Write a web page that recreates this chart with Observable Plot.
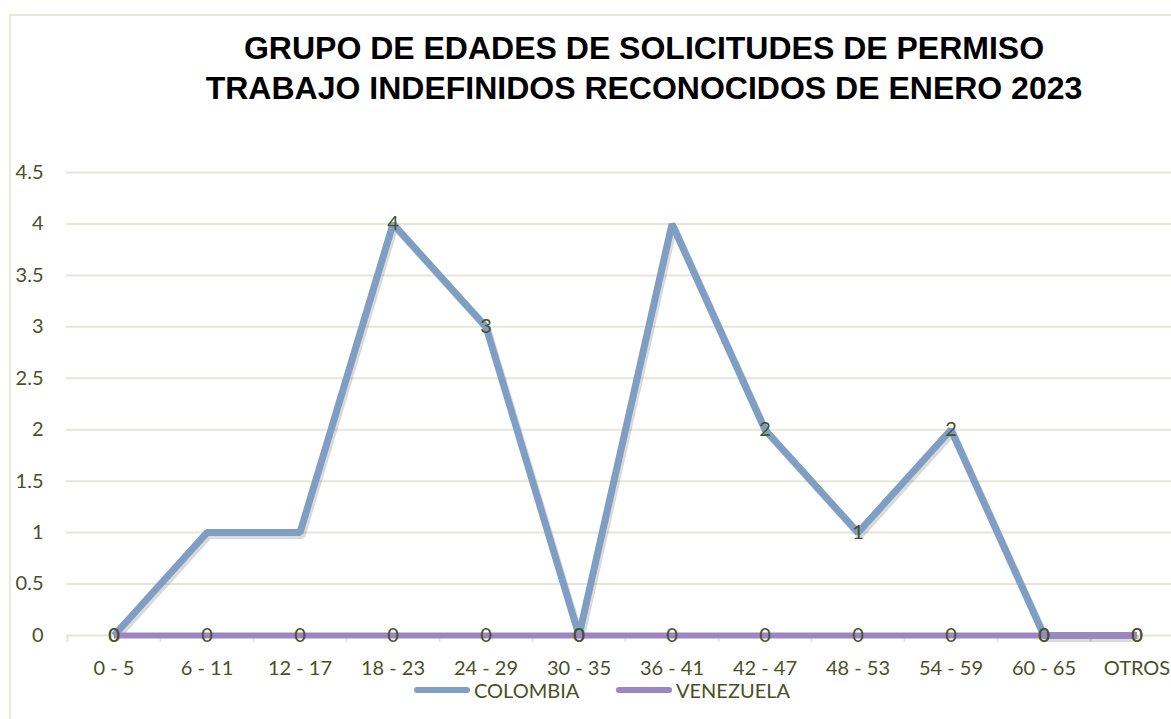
<!DOCTYPE html>
<html><head><meta charset="utf-8">
<script src="https://cdn.jsdelivr.net/npm/d3@7"></script>
<script src="https://cdn.jsdelivr.net/npm/@observablehq/plot@0.6"></script>
<style>
body{margin:0;background:#fff;}
#wrap{position:relative;width:1171px;height:719px;overflow:hidden;font-family:Lato,sans-serif;color:#4a5126;}
#border{position:absolute;left:9px;top:14px;width:1300px;height:900px;border:2px solid #e8e8da;box-sizing:border-box;}
#title{position:absolute;left:0;top:28px;width:1288px;text-align:center;font-family:"Liberation Sans",Arial,sans-serif;font-weight:bold;font-size:32px;line-height:40px;color:#000;}
#chart{position:absolute;left:0;top:0;}
.leg{position:absolute;top:677px;font-size:20px;line-height:26px;display:flex;align-items:center;}
.sw{display:inline-block;width:56px;height:6px;border-radius:3px;margin-right:4px;}
</style></head>
<body>
<div id="wrap">
  <div id="border"></div>
  <div id="title">GRUPO DE EDADES DE SOLICITUDES DE PERMISO<br>TRABAJO INDEFINIDOS RECONOCIDOS DE ENERO 2023</div>
  <div id="chart"></div>
  <div class="leg" style="left:414px"><span class="sw" style="background:#7e9ec4"></span>COLOMBIA</div>
  <div class="leg" style="left:616px"><span class="sw" style="background:#9c85c0"></span>VENEZUELA</div>
</div>
<script>
const categories = ["0 - 5","6 - 11","12 - 17","18 - 23","24 - 29","30 - 35","36 - 41","42 - 47","48 - 53","54 - 59","60 - 65","OTROS"];
const colombia = [0,1,1,4,3,0,4,2,1,2,0,0];
const venezuela = [0,0,0,0,0,0,0,0,0,0,0,0];
const colombiaLabelShown = [true,false,false,true,true,true,false,true,true,true,true,true];
const yTicks = [0,0.5,1,1.5,2,2.5,3,3.5,4,4.5];

const col = categories.map((c,i)=>({cat:c, v:colombia[i], show:colombiaLabelShown[i]}));
const ven = categories.map((c,i)=>({cat:c, v:venezuela[i]}));
const textColor = "#4a5126";
const gridColor = "#e6e6d6";

const chart = Plot.plot({
  width: 1171, height: 719,
  marginLeft: 66, marginRight: 0, marginTop: 172, marginBottom: 84,
  x: {type:"band", domain: categories, range:[66, 1183], padding:0, label:null, tickSize:0, tickPadding:25},
  y: {domain:[0,4.5], ticks: yTicks, tickFormat: d=>String(d), label:null, tickSize:0, tickPadding:23},
  style: {fontFamily:"Lato, sans-serif", fontSize:"20px", color:textColor, background:"transparent", overflow:"visible"},
  marks: [
    Plot.ruleY(yTicks, {stroke:gridColor, strokeWidth:2}),
    Plot.ruleX(categories, {x:d=>d, dx:-46.5, y1:0, y2:0, insetBottom:-7, stroke:gridColor, strokeWidth:2}),
    Plot.line(col, {x:"cat", y:"v", stroke:"#555", strokeOpacity:0.22, strokeWidth:7, dx:2, dy:3, strokeLinejoin:"miter", strokeLinecap:"butt"}),
    Plot.line(col, {x:"cat", y:"v", stroke:"#7e9ec4", strokeWidth:7, strokeLinejoin:"miter", strokeLinecap:"butt"}),
    Plot.line(ven, {x:"cat", y:"v", stroke:"#9c85c0", strokeWidth:6, strokeLinejoin:"miter", strokeLinecap:"butt"}),
    Plot.text(col.filter(d=>d.show), {x:"cat", y:"v", text:d=>String(d.v), fill:textColor, fontSize:20}),
    Plot.text(ven, {x:"cat", y:"v", text:d=>String(d.v), fill:textColor, fontSize:20})
  ]
});
document.getElementById("chart").appendChild(chart);
</script>
</body></html>
